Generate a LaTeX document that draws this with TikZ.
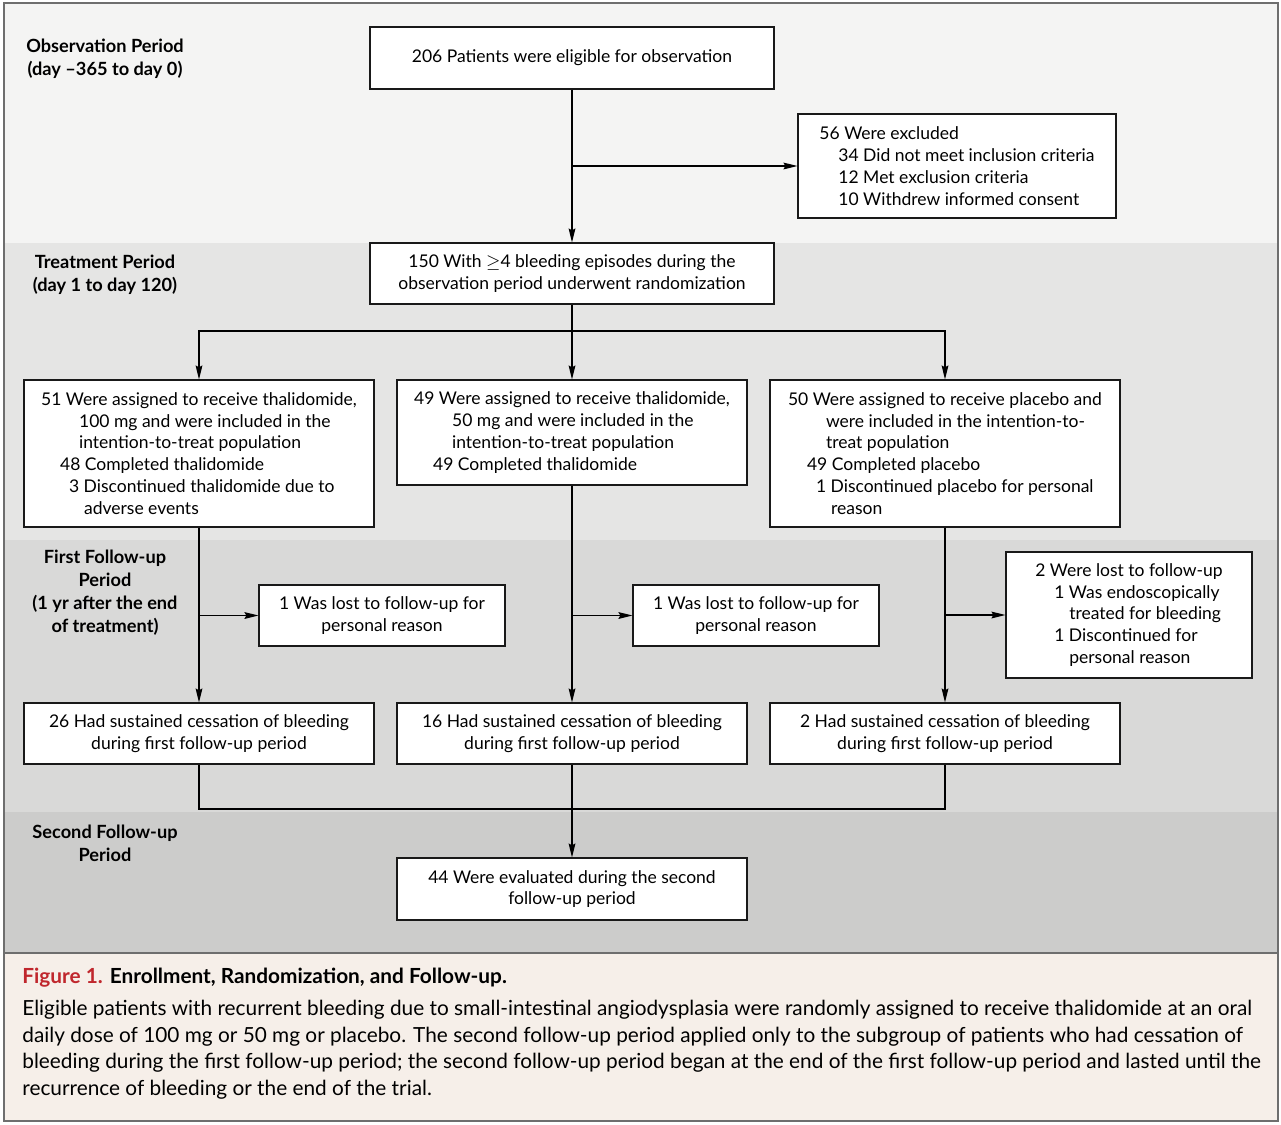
\documentclass[tikz,border=0pt]{standalone}
\usepackage{fontspec}
\setmainfont{Lato}
\usetikzlibrary{arrows.meta}
\definecolor{obsgray}{HTML}{F4F4F3}
\definecolor{trtgray}{HTML}{E5E5E4}
\definecolor{fupgray}{HTML}{D9D9D8}
\definecolor{secgray}{HTML}{CCCCCB}
\definecolor{capbeige}{HTML}{F6EFE9}
\definecolor{figred}{HTML}{C0272D}
\definecolor{framegray}{HTML}{6E6E6E}
\newcommand{\ind}[1]{\hspace*{#1}}

\begin{document}
\begin{tikzpicture}[x=0.5pt,y=-0.5pt,
    box/.style={draw=black!90,fill=white,line width=0.6pt,inner sep=0pt,align=center,font=\fontsize{8.75}{10.9}\selectfont},
    lbox/.style={box,align=left},
    period/.style={align=center,font=\fontsize{9.1}{11.5}\selectfont\bfseries},
    arr/.style={line width=0.6pt,-{Stealth[length=7pt,width=3.4pt,inset=1pt]}},
    ln/.style={line width=0.6pt}]
\useasboundingbox (0,0) rectangle (1281,1125);
\fill[white] (0,0) rectangle (1281,1125);
% period bands
\fill[obsgray] (5,4) rectangle (1277,243);
\fill[trtgray] (5,243) rectangle (1277,540);
\fill[fupgray] (5,540) rectangle (1277,812);
\fill[secgray] (5,812) rectangle (1277,953);
\fill[capbeige] (5,953) rectangle (1277,1121);
\draw[framegray,line width=1pt] (4,3) rectangle (1278,1121);
\draw[framegray,line width=1pt] (4,953) -- (1278,953);

\node[period] (obs) at (105,58.5) {Observation Period\\(day –365 to day 0)};
\node[period] (trt) at (105,274.5) {Treatment Period\\(day 1 to day 120)};
\node[period] (fu1) at (105,592.5) {First Follow-up\\Period\\(1 yr after the end\\of treatment)};
\node[period] (fu2) at (105,843.5) {Second Follow-up\\Period};

\begin{scope}
    \node[box,minimum width=202pt,minimum height=31pt] (elig) at (572,58) {206 Patients were eligible for observation};
    \node[lbox,minimum width=159pt,minimum height=52pt] (excl) at (957,166) {56 Were excluded\\
        \ind{9.5pt}34 Did not meet inclusion criteria\\
        \ind{9.5pt}12 Met exclusion criteria\\
        \ind{9.5pt}10 Withdrew informed consent};
    \node[box,minimum width=202pt,minimum height=30.5pt] (rand) at (572,273.5) {150 With $\geq$4 bleeding episodes during the\\observation period underwent randomization};

    \node[lbox,minimum width=175pt,minimum height=73.5pt] (arm1) at (199,453.5) {51 Were assigned to receive thalidomide,\\
        \ind{19pt}100 mg and were included in the\\
        \ind{19pt}intention-to-treat population\\
        \ind{9.5pt}48 Completed thalidomide\\
        \ind{14pt}3 Discontinued thalidomide due to\\
        \ind{21.5pt}adverse events};
    \node[lbox,minimum width=175pt,minimum height=52.5pt] (arm2) at (572,432.5) {49 Were assigned to receive thalidomide,\\
        \ind{19pt}50 mg and were included in the\\
        \ind{19pt}intention-to-treat population\\
        \ind{9.5pt}49 Completed thalidomide};
    \node[lbox,minimum width=175pt,minimum height=73.5pt] (arm3) at (945,453.5) {50 Were assigned to receive placebo and\\
        \ind{19pt}were included in the intention-to-\\
        \ind{19pt}treat population\\
        \ind{9.5pt}49 Completed placebo\\
        \ind{14pt}1 Discontinued placebo for personal\\
        \ind{21.5pt}reason};

    \node[box,minimum width=123pt,minimum height=30.5pt] (lost1) at (382,615.5) {1 Was lost to follow-up for\\personal reason};
    \node[box,minimum width=123pt,minimum height=30.5pt] (lost2) at (756,615.5) {1 Was lost to follow-up for\\personal reason};
    \node[lbox,minimum width=123pt,minimum height=63pt] (lost3) at (1129,615) {2 Were lost to follow-up\\
        \ind{9.5pt}1 Was endoscopically\\
        \ind{17pt}treated for bleeding\\
        \ind{9.5pt}1 Discontinued for\\
        \ind{17pt}personal reason};

    \node[box,minimum width=175pt,minimum height=30.5pt] (cess1) at (199,733.5) {26 Had sustained cessation of bleeding\\during first follow-up period};
    \node[box,minimum width=175pt,minimum height=30.5pt] (cess2) at (572,733.5) {16 Had sustained cessation of bleeding\\during first follow-up period};
    \node[box,minimum width=175pt,minimum height=30.5pt] (cess3) at (945,733.5) {2 Had sustained cessation of bleeding\\during first follow-up period};

    \node[box,minimum width=175pt,minimum height=31pt] (eval) at (572,889) {44 Were evaluated during the second\\follow-up period};

    \coordinate (ex) at (572,166);
    \coordinate (split) at (572,331);
    \coordinate (merge) at (572,809);

    \path [arr] (elig) edge (rand);
    \path [arr] (ex) edge (excl.west);
    \path [ln] (rand) edge (split);
    \draw [arr] (split) -| (arm1.north);
    \path [arr] (split) edge (arm2.north);
    \draw [arr] (split) -| (arm3.north);

    \path [arr] (arm1.south) edge (cess1.north);
    \path [arr] (arm2.south) edge (cess2.north);
    \path [arr] (arm3.south) edge (cess3.north);
    \path [arr] (arm1.south |- lost1.west) edge (lost1.west);
    \path [arr] (arm2.south |- lost2.west) edge (lost2.west);
    \path [arr] (arm3.south |- lost3.west) edge (lost3.west);

    \draw [ln] (cess1.south) |- (merge) -| (cess3.south);
    \path [ln] (cess2.south) edge (merge);
    \path [arr] (merge) edge (eval.north);
\end{scope}

\node[anchor=north west,align=left,inner sep=0pt,font=\fontsize{10.4}{13.25}\selectfont] (cap) at (22,968)
    {\textcolor{figred}{\bfseries Figure 1.} \textbf{Enrollment, Randomization, and Follow-up.}\\[2.75pt]
    Eligible patients with recurrent bleeding due to small-intestinal angiodysplasia were randomly assigned to receive thalidomide at an oral\\
    daily dose of 100 mg or 50 mg or placebo. The second follow-up period applied only to the subgroup of patients who had cessation of\\
    bleeding during the first follow-up period; the second follow-up period began at the end of the first follow-up period and lasted until the\\
    recurrence of bleeding or the end of the trial.};
\end{tikzpicture}
\end{document}
